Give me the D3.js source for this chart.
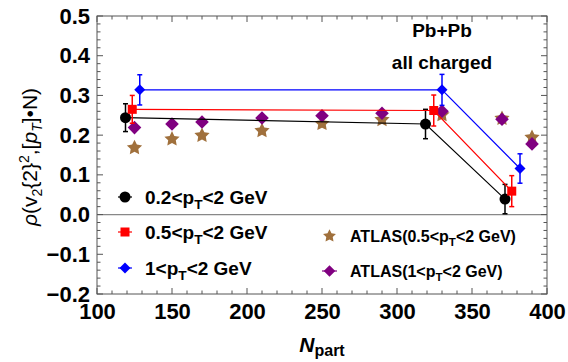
<!DOCTYPE html>
<html>
<head>
<meta charset="utf-8">
<script src="https://cdn.jsdelivr.net/npm/d3@7"></script>
<style>
  html, body { margin: 0; padding: 0; background: #fff; }
  svg { display: block; font-family: "Liberation Sans", Arial, sans-serif; }
</style>
</head>
<body>
<svg id="chart" width="568" height="362"></svg>
<script>
// Correlation rho(v2{2}^2,[pT]) x N versus Npart, Pb+Pb, all charged particles
const npartA = [119, 319, 372];
const rhoA = [0.244, 0.228, 0.039];
const errA = [0.035, 0.037, 0.037];

const npartB = [123.5, 324.5, 376.5];
const rhoB = [0.265, 0.262, 0.059];
const errB = [0.035, 0.039, 0.039];

const npartC = [128.5, 330, 382];
const rhoC = [0.314, 0.314, 0.116];
const errC = [0.038, 0.039, 0.037];

const atlasN = [125, 150, 170, 210, 250, 290, 330, 370, 390];
const atlasLow = [0.168, 0.19, 0.199, 0.211, 0.229, 0.239, 0.251, 0.242, 0.194];
const atlasHigh = [0.219, 0.228, 0.233, 0.243, 0.249, 0.255, 0.26, 0.24, 0.178];

const xTicks = [100, 150, 200, 250, 300, 350, 400];
const yTicks = [-0.2, -0.1, 0.0, 0.1, 0.2, 0.3, 0.4, 0.5];

const seriesLabels = ["0.2<p|T|<2 GeV", "0.5<p|T|<2 GeV", "1<p|T|<2 GeV"];
const atlasLabels = ["ATLAS(0.5<p|T|<2 GeV)", "ATLAS(1<p|T|<2 GeV)"];

const svg = d3.select("#chart");
const plot = { left: 97, right: 547, top: 16, bottom: 294 };

const x = d3.scaleLinear().domain([100, 400]).range([plot.left, plot.right]);
const y = d3.scaleLinear().domain([-0.2, 0.5]).range([plot.bottom, plot.top]);

// symbol shapes
const starPath = (r) => {
  const pts = [];
  for (let i = 0; i < 10; i++) {
    const a = i * Math.PI / 5;
    pts.push([a, i % 2 === 0 ? r : r * 0.5]);
  }
  return d3.lineRadial().curve(d3.curveLinearClosed)(pts);
};
const diamondPath = (h) => `M0,${-h}L${h},0L0,${h}L${-h},0Z`;
const squarePath = (h) => `M${-h},${-h}H${h}V${h}H${-h}Z`;

// frame
svg.append("rect")
  .attr("x", plot.left).attr("y", plot.top)
  .attr("width", plot.right - plot.left).attr("height", plot.bottom - plot.top)
  .attr("fill", "none").attr("stroke", "#555").attr("stroke-width", 1);

// zero line
svg.append("line")
  .attr("x1", plot.left).attr("x2", plot.right)
  .attr("y1", y(0)).attr("y2", y(0))
  .attr("stroke", "#888").attr("stroke-width", 1.2);

// ticks on all four sides, pointing inward
const xMinor = d3.range(100, 401, 10);
const yMinor = d3.range(-0.2, 0.5001, 0.02);
const tickG = svg.append("g").attr("stroke", "#555").attr("stroke-width", 1);
xMinor.forEach(v => {
  const major = Math.abs(v % 50) < 1e-6;
  const len = major ? 6 : 3.5;
  tickG.append("line").attr("x1", x(v)).attr("x2", x(v)).attr("y1", plot.bottom).attr("y2", plot.bottom - len);
  tickG.append("line").attr("x1", x(v)).attr("x2", x(v)).attr("y1", plot.top).attr("y2", plot.top + len);
});
yMinor.forEach(v => {
  const major = Math.abs(Math.round(v * 10) - v * 10) < 1e-6;
  const len = major ? 6 : 3.5;
  tickG.append("line").attr("y1", y(v)).attr("y2", y(v)).attr("x1", plot.left).attr("x2", plot.left + len);
  tickG.append("line").attr("y1", y(v)).attr("y2", y(v)).attr("x1", plot.right).attr("x2", plot.right - len);
});

// tick labels via d3 axes
const xAxis = d3.axisBottom(x).tickValues(xTicks).tickSize(0).tickPadding(9).tickFormat(d3.format("d"));
const yAxis = d3.axisLeft(y).tickValues(yTicks).tickSize(0).tickPadding(7).tickFormat(d => d3.format(".1f")(d).replace("-", "\u2212"));
const gx = svg.append("g").attr("transform", `translate(0,${plot.bottom})`).call(xAxis);
const gy = svg.append("g").attr("transform", `translate(${plot.left},0)`).call(yAxis);
[gx, gy].forEach(g => {
  g.select(".domain").remove();
  g.selectAll("text").attr("font-size", 22).attr("font-weight", "bold").attr("fill", "#000")
    .attr("font-family", "'Liberation Sans', Arial, sans-serif");
});

// series drawing
const series = [
  { n: npartA, v: rhoA, e: errA, color: "#000", shape: "circle" },
  { n: npartB, v: rhoB, e: errB, color: "#ff0000", shape: "square" },
  { n: npartC, v: rhoC, e: errC, color: "#0000ff", shape: "diamond" }
];

const drawMarker = (g, shape, color, cx, cy, scale = 1) => {
  if (shape === "circle") {
    g.append("circle").attr("cx", cx).attr("cy", cy).attr("r", 5.5 * scale).attr("fill", color);
  } else if (shape === "square") {
    g.append("path").attr("d", squarePath(4.5 * scale)).attr("transform", `translate(${cx},${cy})`).attr("fill", color);
  } else if (shape === "diamond") {
    g.append("path").attr("d", diamondPath(5.5 * scale)).attr("transform", `translate(${cx},${cy})`).attr("fill", color);
  } else if (shape === "pdiamond") {
    g.append("path").attr("d", diamondPath(6.8 * scale)).attr("transform", `translate(${cx},${cy})`).attr("fill", color);
  } else if (shape === "star") {
    g.append("path").attr("d", starPath(8 * scale)).attr("transform", `translate(${cx},${cy})`).attr("fill", color);
  }
};

// ATLAS points
const atlasG = svg.append("g");
atlasN.forEach((n, i) => drawMarker(atlasG, "star", "#a0703c", x(n), y(atlasLow[i])));
atlasN.forEach((n, i) => drawMarker(atlasG, "pdiamond", "#800080", x(n), y(atlasHigh[i])));

const line = d3.line().x(d => x(d[0])).y(d => y(d[1]));
series.forEach(s => {
  const g = svg.append("g");
  const pts = s.n.map((n, i) => [n, s.v[i]]);
  g.append("path").attr("d", line(pts)).attr("fill", "none").attr("stroke", s.color).attr("stroke-width", 1.2);
  s.n.forEach((n, i) => {
    const cx = x(n), y0 = y(s.v[i] - s.e[i]), y1 = y(s.v[i] + s.e[i]);
    g.append("line").attr("x1", cx).attr("x2", cx).attr("y1", y0).attr("y2", y1).attr("stroke", s.color).attr("stroke-width", 1.5);
    [y0, y1].forEach(yy => g.append("line").attr("x1", cx - 2.5).attr("x2", cx + 2.5).attr("y1", yy).attr("y2", yy).attr("stroke", s.color).attr("stroke-width", 1.5));
    drawMarker(g, s.shape, s.color, cx, y(s.v[i]));
  });
});

// text with "|T|" marking a subscript T
const richText = (sel, str, size) => {
  const parts = str.split("|");
  parts.forEach((p, i) => {
    if (i % 2 === 1) {
      sel.append("tspan").attr("font-size", size * 0.72).attr("dy", size * 0.25).text(p);
    } else {
      const t = sel.append("tspan").text(p);
      if (i > 0) t.attr("dy", -size * 0.25);
    }
  });
};

// legend
const legend = svg.append("g");
const legRows = [197, 232, 268];
series.forEach((s, i) => {
  const ly = legRows[i];
  legend.append("line").attr("x1", 118).attr("x2", 132).attr("y1", ly).attr("y2", ly).attr("stroke", s.color).attr("stroke-width", 1.2);
  drawMarker(legend, s.shape, s.color, 125, ly);
  const t = legend.append("text").attr("x", 145).attr("y", ly + 7).attr("font-size", 19).attr("font-weight", "bold");
  richText(t, seriesLabels[i], 19);
});
const atlasRows = [{ ly: 236, shape: "star", color: "#a0703c" }, { ly: 271, shape: "pdiamond", color: "#800080" }];
atlasRows.forEach((r, i) => {
  if (r.shape === "pdiamond") {
    legend.append("line").attr("x1", 322).attr("x2", 337).attr("y1", r.ly).attr("y2", r.ly).attr("stroke", r.color).attr("stroke-width", 1.2);
  }
  drawMarker(legend, r.shape, r.color, 329.5, r.ly, 0.85);
  const t = legend.append("text").attr("x", 350).attr("y", r.ly + 6).attr("font-size", 16).attr("font-weight", "bold");
  richText(t, atlasLabels[i], 16);
});

// annotation
svg.append("text").attr("x", 442).attr("y", 37).attr("text-anchor", "middle")
  .attr("font-size", 19).attr("font-weight", "bold").text("Pb+Pb");
svg.append("text").attr("x", 442).attr("y", 69).attr("text-anchor", "middle")
  .attr("font-size", 19).attr("font-weight", "bold").text("all charged");

// x axis title
const xt = svg.append("text").attr("x", 322).attr("y", 352).attr("text-anchor", "middle").attr("font-weight", "bold");
xt.append("tspan").attr("font-size", 21).attr("font-style", "italic").text("N");
xt.append("tspan").attr("font-size", 16).attr("dy", 4).text("part");

// y axis title
const yt = svg.append("text").attr("transform", "translate(37,157) rotate(-90)").attr("text-anchor", "middle").attr("font-size", 21);
yt.append("tspan").attr("font-style", "italic").text("\u03C1");
yt.append("tspan").text("(v");
yt.append("tspan").attr("font-size", 14).attr("dy", 5).text("2");
yt.append("tspan").attr("dy", -5).text("{2}");
yt.append("tspan").attr("font-size", 14).attr("dy", -8).text("2");
yt.append("tspan").attr("dy", 8).text(",[");
yt.append("tspan").attr("font-style", "italic").text("p");
yt.append("tspan").attr("font-size", 14).attr("font-style", "italic").attr("dy", 5).text("T");
yt.append("tspan").attr("dy", -5).text("]\u2022N)");
</script>
</body>
</html>
